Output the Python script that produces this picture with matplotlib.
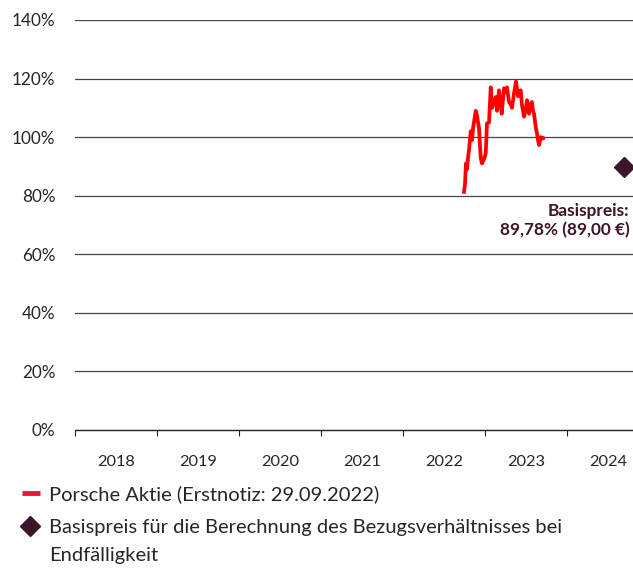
import matplotlib.pyplot as plt
from matplotlib.lines import Line2D

# Porsche Aktie in % des Basispreises, x als Dezimaljahr
years = [2022.744, 2022.756, 2022.768, 2022.780, 2022.793, 2022.805, 2022.826,
         2022.841, 2022.854, 2022.887, 2022.902, 2022.915, 2022.927, 2022.939,
         2022.948, 2022.963, 2022.988, 2023.009, 2023.024, 2023.049, 2023.061,
         2023.070, 2023.085, 2023.110, 2023.131, 2023.146, 2023.171, 2023.183,
         2023.204, 2023.220, 2023.232, 2023.256, 2023.268, 2023.293, 2023.317,
         2023.329, 2023.354, 2023.366, 2023.378, 2023.402, 2023.415, 2023.435,
         2023.451, 2023.476, 2023.500, 2023.512, 2023.537, 2023.549, 2023.573,
         2023.585, 2023.598, 2023.618, 2023.634, 2023.646, 2023.659, 2023.679,
         2023.695, 2023.707]
kurs = [81.3, 84.0, 91.0, 89.0, 93.0, 95.6, 102.0,
        99.0, 103.0, 109.0, 107.5, 105.0, 103.0, 97.0,
        93.0, 91.0, 92.5, 94.5, 104.7, 105.0, 112.0,
        117.0, 110.0, 112.0, 113.7, 109.0, 116.0, 113.0,
        108.0, 113.0, 116.7, 115.5, 117.0, 112.0, 111.0,
        110.0, 115.0, 117.0, 119.0, 114.0, 115.0, 116.0,
        111.0, 107.0, 110.0, 112.6, 108.0, 111.0, 112.0,
        109.0, 108.0, 103.5, 101.3, 99.0, 97.3, 100.0,
        99.5, 99.6]

basis_x = 2024.7
basis_y = 89.78

year_labels = ["2018", "2019", "2020", "2021", "2022", "2023", "2024"]
y_ticks = [0, 20, 40, 60, 80, 100, 120, 140]

plt.rcParams["font.family"] = ["Lato", "DejaVu Sans"]

DARK = "#3d1429"
TXT = "#262626"

fig = plt.figure(figsize=(6.33, 5.68), dpi=100)
ax = fig.add_axes([75 / 633, 1 - 430 / 568, 1 - 75 / 633, 410 / 568])

for v in y_ticks[1:]:
    ax.axhline(v, color="#444444", lw=0.9, zorder=1)

ax.plot(years, kurs, color="#ff0000", lw=2.7, solid_joinstyle="round", zorder=3)
ax.plot([basis_x], [basis_y], marker="D", ms=10.5, color=DARK, ls="none", zorder=4,
        clip_on=False)
ax.text(2024.76, 77.5, "Basispreis:", ha="right", va="top", fontsize=12.4,
        fontweight="bold", color=DARK)
ax.text(2024.76, 71.0, "89,78% (89,00 €)", ha="right", va="top", fontsize=12.4,
        fontweight="bold", color=DARK)

ax.set_xlim(2018, 2018 + 558 / 82)
ax.set_ylim(0, 140)
ax.set_yticks(y_ticks)
ax.set_yticklabels([f"{v}%" for v in y_ticks])
ax.tick_params(axis="y", length=0, pad=14, labelsize=12.3, labelcolor=TXT)

ax.set_xticks(range(2018, 2025))
ax.set_xticklabels([])
ax.tick_params(axis="x", which="major", length=4, color="#222222", direction="out")
ax.set_xticks([int(y) + 0.5 for y in year_labels], minor=True)
ax.set_xticklabels(year_labels, minor=True)
ax.tick_params(axis="x", which="minor", length=0, pad=18, labelsize=11.8,
               labelcolor=TXT)

for s in ["top", "right", "left"]:
    ax.spines[s].set_visible(False)
ax.spines["bottom"].set_color("#222222")
ax.spines["bottom"].set_linewidth(1.0)

# Legende
fig.add_artist(Line2D([22 / 633, 40 / 633], [1 - 493 / 568] * 2, color="#e8173a",
                      lw=3.5, solid_capstyle="butt"))
fig.text(49 / 633, 1 - 494 / 568, "Porsche Aktie (Erstnotiz: 29.09.2022)",
         va="center", ha="left", fontsize=14.5, color=TXT)
fig.add_artist(Line2D([30 / 633], [1 - 526 / 568], marker="D", ms=10, color=DARK,
                      ls="none"))
fig.text(49 / 633, 1 - 527 / 568,
         "Basispreis für die Berechnung des Bezugsverhältnisses bei",
         va="center", ha="left", fontsize=14.5, color=TXT)
fig.text(49 / 633, 1 - 556 / 568, "Endfälligkeit",
         va="center", ha="left", fontsize=14.5, color=TXT)

fig.savefig("out.png", dpi=100)
